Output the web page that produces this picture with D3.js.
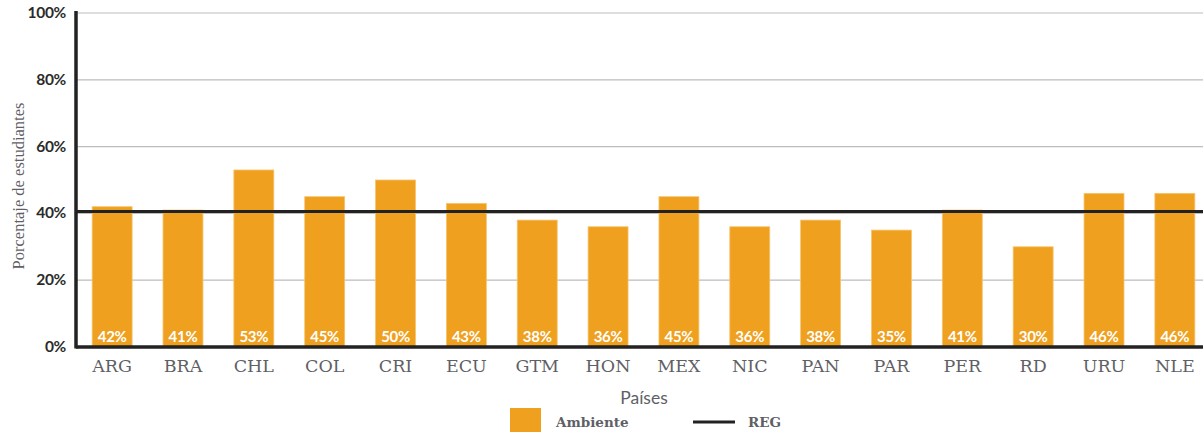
<!DOCTYPE html>
<html>
<head>
<meta charset="utf-8">
<script src="https://cdn.jsdelivr.net/npm/d3@7"></script>
<style>
  body { margin: 0; background: #fff; }
  svg { display: block; }
</style>
</head>
<body>
<div id="chart"></div>
<script>
const countries = ["ARG", "BRA", "CHL", "COL", "CRI", "ECU", "GTM", "HON", "MEX", "NIC", "PAN", "PAR", "PER", "RD", "URU", "NLE"];
const ambiente = [42, 41, 53, 45, 50, 43, 38, 36, 45, 36, 38, 35, 41, 30, 46, 46];
const regValue = 40.6;
const yTicks = [0, 20, 40, 60, 80, 100];

const width = 1203, height = 432;
const margin = {top: 13, right: 0, bottom: 85, left: 77};

const svg = d3.select("#chart").append("svg")
    .attr("width", width)
    .attr("height", height);

const x = d3.scaleBand()
    .domain(countries)
    .range([78, 1209])
    .paddingInner(0.436)
    .paddingOuter(0.2);

const y = d3.scaleLinear()
    .domain([0, 100])
    .range([height - margin.bottom, margin.top]);

// gridlines
svg.append("g")
    .selectAll("line")
    .data(yTicks.filter(d => d > 0))
    .join("line")
    .attr("x1", margin.left)
    .attr("x2", width)
    .attr("y1", d => y(d))
    .attr("y2", d => y(d))
    .attr("stroke", "#bdbdbd")
    .attr("stroke-width", 1.2);

// y tick labels
svg.append("g")
    .selectAll("text")
    .data(yTicks)
    .join("text")
    .attr("x", 66)
    .attr("y", d => y(d) + 5)
    .attr("text-anchor", "end")
    .attr("font-family", "Lato, sans-serif")
    .attr("font-weight", "bold")
    .attr("font-size", "15.5px")
    .attr("letter-spacing", "-0.3px")
    .attr("fill", "#2b2b2b")
    .text(d => `${d}%`);

// bars
svg.append("g")
    .selectAll("rect")
    .data(countries)
    .join("rect")
    .attr("x", d => x(d))
    .attr("y", (d, i) => y(ambiente[i]))
    .attr("width", x.bandwidth())
    .attr("height", (d, i) => y(0) - y(ambiente[i]))
    .attr("fill", "#EFA01F")
    .attr("stroke", "#F6C46E")
    .attr("stroke-width", 0.8);

// value labels
svg.append("g")
    .selectAll("text")
    .data(countries)
    .join("text")
    .attr("x", d => x(d) + x.bandwidth() / 2)
    .attr("y", y(0) - 5)
    .attr("text-anchor", "middle")
    .attr("font-family", "Lato, sans-serif")
    .attr("font-weight", "bold")
    .attr("font-size", "15px")
    .attr("letter-spacing", "-0.3px")
    .attr("fill", "#fff")
    .text((d, i) => `${ambiente[i]}%`);

// x category labels
svg.append("g")
    .selectAll("text")
    .data(countries)
    .join("text")
    .attr("x", d => x(d) + x.bandwidth() / 2)
    .attr("y", y(0) + 25)
    .attr("text-anchor", "middle")
    .attr("font-family", "'DejaVu Serif', serif")
    .attr("font-size", "17.5px")
    .attr("fill", "#5f5f66")
    .text(d => d);

// REG line
svg.append("line")
    .attr("x1", margin.left)
    .attr("x2", width)
    .attr("y1", y(regValue))
    .attr("y2", y(regValue))
    .attr("stroke", "#222")
    .attr("stroke-width", 3);

// axes lines
svg.append("line")
    .attr("x1", margin.left - 1)
    .attr("x2", width)
    .attr("y1", y(0))
    .attr("y2", y(0))
    .attr("stroke", "#222")
    .attr("stroke-width", 3.5);

svg.append("line")
    .attr("x1", margin.left - 1)
    .attr("x2", margin.left - 1)
    .attr("y1", margin.top - 2)
    .attr("y2", y(0) + 1.5)
    .attr("stroke", "#222")
    .attr("stroke-width", 3.5);

// axis titles
svg.append("text")
    .attr("transform", `translate(24, 186) rotate(-90)`)
    .attr("text-anchor", "middle")
    .attr("font-family", "'Liberation Serif', serif")
    .attr("font-size", "16.5px")
    .attr("fill", "#5f5f66")
    .text("Porcentaje de estudiantes");

svg.append("text")
    .attr("x", 644)
    .attr("y", 404)
    .attr("text-anchor", "middle")
    .attr("font-family", "Lato, sans-serif")
    .attr("font-size", "17.5px")
    .attr("fill", "#5f5f66")
    .text("Países");

// legend
const legend = svg.append("g");
legend.append("rect")
    .attr("x", 510)
    .attr("y", 408)
    .attr("width", 31)
    .attr("height", 26)
    .attr("fill", "#EFA01F");
legend.append("text")
    .attr("x", 556)
    .attr("y", 427)
    .attr("font-family", "'DejaVu Serif', serif")
    .attr("font-weight", "bold")
    .attr("font-size", "13.5px")
    .attr("fill", "#5f5f66")
    .text("Ambiente");
legend.append("line")
    .attr("x1", 693)
    .attr("x2", 735)
    .attr("y1", 422)
    .attr("y2", 422)
    .attr("stroke", "#222")
    .attr("stroke-width", 3);
legend.append("text")
    .attr("x", 748)
    .attr("y", 427)
    .attr("font-family", "'DejaVu Serif', serif")
    .attr("font-weight", "bold")
    .attr("font-size", "13.5px")
    .attr("fill", "#5f5f66")
    .text("REG");
</script>
</body>
</html>
